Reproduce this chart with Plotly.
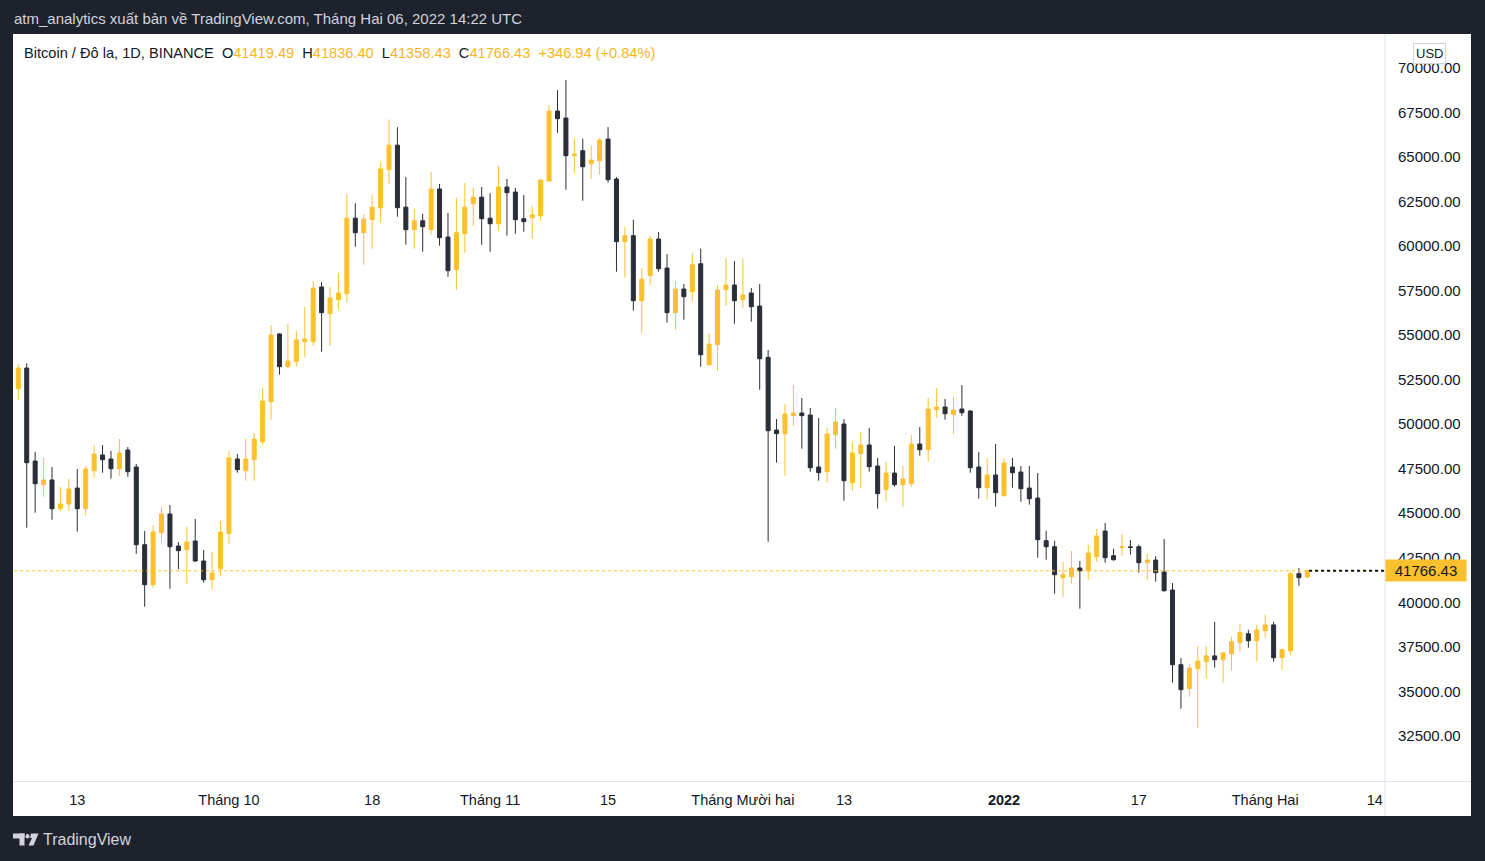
import plotly.graph_objects as go
import pandas as pd

# ---------------- data ----------------
start_date = "2021-09-05"
opens = [50250, 51987, 53149, 47927, 46600, 46864, 45253, 45517, 46415, 45253, 47385, 48266, 48042, 47498, 48547, 47593,
         43233, 40988, 43906, 44955, 43160, 42952, 43440, 42318, 41268, 41886,
         43850, 48042, 47385, 48003, 49013, 51258, 55059, 53222, 53503, 54625, 54625, 57694, 56197, 56982, 57320, 61559,
         60743, 61471, 62145, 64282, 65657, 62177, 60911, 61410, 60911, 63195, 60499, 58666, 60686, 62370, 62738,
         61556, 61247, 63307, 63026, 61528, 61584, 61696, 63644, 67570, 67177, 65063, 65344, 64614, 64782, 65998, 63755,
         60237, 60574, 56926, 58329, 60387, 58759, 56253, 57582, 57432, 59002, 53334, 54457, 57545, 57806,
         56982, 57358, 56626, 53746, 49668, 49462, 50474, 50623, 50511, 47591, 47329, 49406, 50006, 46712, 48341, 48828,
         47647, 46319, 47254, 46600, 46656, 48884, 48564, 50809, 50960, 50528, 50848, 50735, 47591, 46431, 47142,
         45982, 47591, 47310, 46413, 45852, 43457, 43120, 41381, 41437, 41925, 41774, 42559, 44001, 42616, 43082, 43110,
         43120, 42222, 42372, 41700, 40688, 36498, 35151, 36274, 36667, 36993, 36779, 37115, 37733, 38237, 37845,
         38406, 38732, 36891, 37284, 41605, 41419.49]
highs = [52100, 53373, 53413, 48435, 48115, 47593, 46471, 46920, 47481, 47649, 48828, 48828, 48491, 49164, 48715, 47761,
         44001, 44338, 45348, 45460, 43384, 44226, 44675, 42935, 42823, 44563,
         48491, 48322, 49164, 49501, 52026, 55562, 55100, 55618, 55227, 56573, 58031, 57975, 57694, 58480, 62906, 62401,
         61784, 62850, 64713, 67100, 66667, 63860, 62074, 61803, 64152, 63475, 61847, 62700, 63531, 63251, 63307,
         62962, 64489, 63756, 63251, 62858, 62240, 63756, 67906, 68749, 69310, 66017, 66017, 65624, 66054, 66672, 63867,
         61079, 61472, 58760, 60555, 60780, 59545, 58031, 57862, 59619, 59844, 55114, 57806, 59320, 59152,
         59264, 57638, 57862, 54158, 50286, 51128, 52194, 51465, 50904, 50342, 49780, 50904, 50286, 48996, 49555, 49780,
         48098, 47873, 48771, 47649, 49387, 49836, 51465, 52026, 51409, 51522, 52194, 50791, 48435, 48098, 48884,
         48098, 48098, 47649, 47649, 47254, 44013, 43457, 42262, 42879, 42318, 43215, 44114, 44450, 43008, 43815, 43495,
         43232, 42709, 42596, 43550, 41081, 36874, 36536, 37547, 37547, 38901, 37218, 38069, 38789, 38451, 38732,
         39293, 38901, 37396, 41717, 41925, 41836.40]
lows = [50000, 51353, 44187, 45028, 45926, 44636, 45141, 45141, 43962, 44860, 46993, 47273, 46937, 47105, 47049, 42727,
        39753, 40819, 43345, 40763, 41868, 41044, 42262, 41100, 40707, 41493,
        43289, 47273, 46824, 46824, 48845, 50248, 52773, 53110, 53222, 53783, 54401, 54064, 54401, 56421, 56814, 59957,
        58946, 59844, 61303, 63492, 61640, 60069, 59844, 59676, 60630, 60013, 58273, 57543, 59620, 61135, 60069,
        59676, 60855, 60574, 60686, 60799, 60406, 61416, 63600, 66354, 63155, 64109, 62538, 63755, 63999, 63549, 58553,
        58216, 56365, 55130, 57824, 58553, 55691, 55298, 55860, 56926, 53222, 53278, 52997, 56645, 55635,
        56533, 55748, 51931, 43401, 47834, 47105, 49911, 48620, 47329, 46824, 46712, 48620, 45702, 46263, 46431, 47329,
        45253, 45702, 46488, 45365, 46488, 48228, 47891, 50360, 50248, 49462, 50472, 47273, 45814, 45758, 45365,
        45926, 46431, 45646, 45477, 42503, 42391, 40483, 40314, 41044, 39640, 41268, 42278, 42222, 42335, 42615, 42671,
        41661, 41268, 41156, 40595, 35488, 34029, 34702, 32963, 35713, 36330, 35488, 36161, 37228, 37452, 36667,
        38013, 36667, 36218, 37059, 40932, 41358.43]
closes = [51987, 53149, 47834, 46656, 46864, 45253, 45517, 46359, 45253, 47481, 48322, 48003, 47498, 48379, 47329, 43233,
          40988, 43945, 44955, 43120, 42896, 43384, 42318, 41268, 41644, 43945,
          48098, 47441, 48042, 49164, 51297, 55003, 53222, 53541, 54722, 54779, 57638, 56253, 57077, 57358, 61559, 60743,
          61503, 62177, 64320, 65657, 62145, 60911, 61410, 61080, 63195, 60462, 58610, 60742, 62177, 62738, 61528,
          61247, 63307, 62987, 61472, 61360, 61752, 63700, 67570, 67140, 65063, 65156, 64445, 64820, 65942, 63717, 60237,
          60574, 56926, 58133, 60387, 58722, 56253, 57582, 57151, 58946, 53895, 54494, 57526, 57806, 56926,
          57245, 56589, 53671, 49630, 49462, 50567, 50623, 50474, 47553, 47273, 49443, 50118, 46824, 48379, 48828, 47610,
          46095, 47254, 46600, 46918, 48884, 48564, 50848, 50960, 50584, 50791, 50640, 47553, 46431, 47142, 46151,
          47816, 47273, 46375, 45814, 43513, 43120, 41549, 41549, 41925, 41774, 42767, 43722, 42503, 42391, 43110, 43082,
          42222, 42372, 41661, 40651, 36498, 35095, 36312, 36705, 36993, 36779, 37161, 37788, 38294, 37845, 38451,
          38732, 36891, 37340, 41605, 41381, 41766.43]
dates = pd.date_range(start_date, periods=len(opens), freq="D")

x_tick_dates = ["2021-09-13", "2021-10-01", "2021-10-18", "2021-11-01", "2021-11-15", "2021-12-01",
                "2021-12-13", "2022-01-01", "2022-01-17", "2022-02-01", "2022-02-14"]
x_tick_labels = ["13", "Tháng 10", "18", "Tháng 11", "15", "Tháng Mười hai", "13", "<b>2022</b>", "17",
                 "Tháng Hai", "14"]
y_tick_values = [32500, 35000, 37500, 40000, 42500, 45000, 47500, 50000, 52500, 55000, 57500, 60000,
                 62500, 65000, 67500, 70000]
last_price = 41766.43
header_symbol = "Bitcoin / Đô la, 1D, BINANCE"
ohlc_last = ("41419.49", "41836.40", "41358.43", "41766.43")
change_text = "+346.94 (+0.84%)"

# ---------------- style ----------------
W, H = 1485, 861
L, R, T, B = 14, 1385, 35, 781
YEL = "#fbc02d"
YEL_TXT = "#f7b51e"
DARK = "#2a2e39"
TXT = "#131722"
FRAME = "#1e222d"
LOGO = "#d1d4dc"
FONT = "Liberation Sans"


def px(x):
    return (x - L) / (R - L)


def py(y):
    return (B - y) / (B - T)


fig = go.Figure()
fig.add_trace(go.Candlestick(
    x=dates, open=opens, high=highs, low=lows, close=closes,
    increasing=dict(line=dict(color=YEL, width=1), fillcolor=YEL),
    decreasing=dict(line=dict(color=DARK, width=1), fillcolor=DARK),
    whiskerwidth=0, showlegend=False, hoverinfo="skip",
))

shapes = [
    dict(type="rect", xref="paper", yref="paper", x0=px(13), x1=px(1471), y0=py(816), y1=py(34),
         fillcolor="white", line=dict(width=0), layer="below"),
    dict(type="line", xref="paper", yref="paper", x0=px(1385), x1=px(1385), y0=py(816), y1=py(34),
         line=dict(color="#e0e3eb", width=1)),
    dict(type="line", xref="paper", yref="paper", x0=px(13), x1=px(1471), y0=py(781.5), y1=py(781.5),
         line=dict(color="#e0e3eb", width=1)),
    dict(type="line", xref="paper", yref="y", x0=0, x1=1, y0=last_price, y1=last_price,
         line=dict(color=YEL, width=1, dash="dot")),
    dict(type="line", xref="paper", yref="y", x0=px(1309), x1=1, y0=last_price, y1=last_price,
         line=dict(color=TXT, width=2, dash="dot")),
    # TradingView logo
    dict(type="rect", xref="paper", yref="paper", x0=px(13), x1=px(24.5), y0=py(838.5), y1=py(833.5),
         fillcolor=LOGO, line=dict(width=0)),
    dict(type="rect", xref="paper", yref="paper", x0=px(19.5), x1=px(24.5), y0=py(845.5), y1=py(833.5),
         fillcolor=LOGO, line=dict(width=0)),
    dict(type="circle", xref="paper", yref="paper", x0=px(25.5), x1=px(29.5), y0=py(838.5), y1=py(834),
         fillcolor=LOGO, line=dict(width=0)),
    dict(type="path", xref="paper", yref="paper",
         path=f"M {px(31)},{py(833.5)} L {px(38.5)},{py(833.5)} L {px(33.5)},{py(845.5)} L {px(28.5)},{py(845.5)} "
              f"L {px(32)},{py(838)} L {px(30)},{py(838)} Z",
         fillcolor=LOGO, line=dict(width=0)),
]

ann = []
ann.append(dict(xref="paper", yref="paper", x=px(12), y=py(19), xanchor="left", yanchor="middle",
                text="atm_analytics xuất bản về TradingView.com, Tháng Hai 06, 2022 14:22 UTC",
                showarrow=False, font=dict(family=FONT, size=15, color=LOGO)))
hdr = (f"{header_symbol}&nbsp;&nbsp;"
       f"O<span style='color:{YEL_TXT}'>{ohlc_last[0]}</span>&nbsp;&nbsp;"
       f"H<span style='color:{YEL_TXT}'>{ohlc_last[1]}</span>&nbsp;&nbsp;"
       f"L<span style='color:{YEL_TXT}'>{ohlc_last[2]}</span>&nbsp;&nbsp;"
       f"C<span style='color:{YEL_TXT}'>{ohlc_last[3]}</span>&nbsp;&nbsp;"
       f"<span style='color:{YEL_TXT}'>{change_text}</span>")
ann.append(dict(xref="paper", yref="paper", x=px(22), y=py(53), xanchor="left", yanchor="middle",
                text=hdr, showarrow=False, font=dict(family=FONT, size=14.6, color=TXT)))
ann.append(dict(xref="paper", yref="y", x=px(1425.5), y=last_price, xanchor="center", yanchor="middle",
                text=f"{last_price:.2f}", showarrow=False, bgcolor=YEL, borderpad=2,
                font=dict(family=FONT, size=15, color=TXT), width=76))
ann.append(dict(xref="paper", yref="paper", x=px(1429), y=py(53), xanchor="center", yanchor="middle",
                text="USD", showarrow=False, bgcolor="white", bordercolor="#d1d4dc", borderwidth=1, borderpad=2,
                font=dict(family=FONT, size=13, color=TXT)))
ann.append(dict(xref="paper", yref="paper", x=px(41), y=py(839.5), xanchor="left", yanchor="middle",
                text="TradingView", showarrow=False, font=dict(family=FONT, size=16, color=LOGO)))

fig.update_layout(
    width=W, height=H,
    margin=dict(l=L, r=W - R, t=T, b=H - B, pad=0),
    paper_bgcolor=FRAME, plot_bgcolor="white",
    boxgap=0.32,
    shapes=shapes, annotations=ann,
    font=dict(family=FONT, size=14, color=TXT),
    xaxis=dict(type="date", range=["2021-09-05 11:45", "2022-02-15 05:15"], rangeslider=dict(visible=False),
               showgrid=False, zeroline=False, showline=False, ticks="",
               tickvals=x_tick_dates, ticktext=x_tick_labels, ticklabelstandoff=8,
               tickfont=dict(family=FONT, size=14.5, color=TXT)),
    yaxis=dict(side="right", range=[29971, 71838], showgrid=False, zeroline=False, showline=False, ticks="",
               tickvals=y_tick_values, ticktext=[f"{v:.2f}" for v in y_tick_values], ticklabelstandoff=12,
               tickfont=dict(family=FONT, size=15, color=TXT)),
)

fig.write_html("out.html", config={"displayModeBar": False},
               post_script="document.body.style.margin='0';document.body.style.background='#1e222d';")
